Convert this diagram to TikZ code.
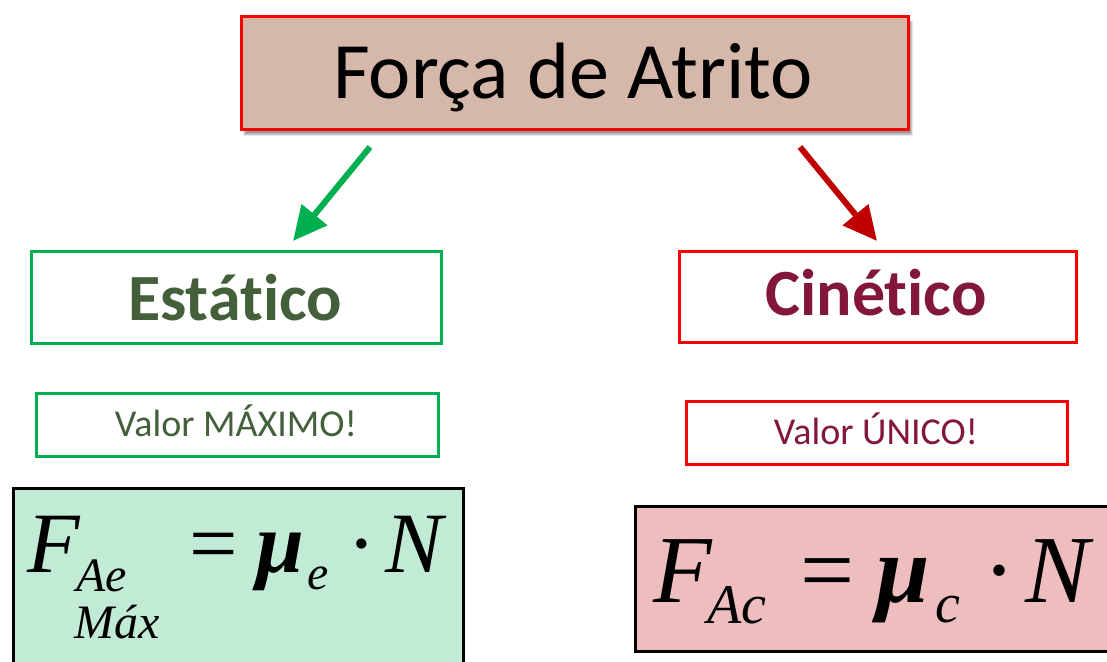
\documentclass[tikz,border=0pt]{standalone}
\usepackage{fontspec}
\usetikzlibrary{arrows.meta,shadows.blur}
\newfontfamily\calibri[Ligatures={NoCommon}]{Carlito}
\newfontfamily\tnr{Liberation Serif}
\definecolor{topfill}{HTML}{D5B8A9}
\definecolor{gborder}{HTML}{00B050}
\definecolor{gtext}{HTML}{44603A}
\definecolor{rborder}{HTML}{FF0000}
\definecolor{rarrow}{HTML}{C00000}
\definecolor{rtext}{HTML}{83173A}
\definecolor{gfill}{HTML}{C1EBD4}
\definecolor{rfill}{HTML}{EEBDBE}
\tikzset{
  box/.style={draw, line width=3pt, inner sep=0pt, anchor=north west},
  conn/.style={line width=6pt, -{Triangle[length=34pt,width=32pt]}},
  fbig/.style={anchor=base west, inner sep=0pt, font=\tnr\itshape\fontsize{86}{86}\selectfont},
  fmu/.style={anchor=base west, inner sep=0pt, font=\tnr\bfseries\itshape\fontsize{86}{86}\selectfont},
  frm/.style={anchor=base west, inner sep=0pt, font=\tnr\fontsize{86}{86}\selectfont},
  fsub/.style={anchor=base west, inner sep=0pt, font=\tnr\itshape\fontsize{48}{48}\selectfont},
  fbigR/.style={anchor=base west, inner sep=0pt, font=\tnr\itshape\fontsize{96}{96}\selectfont},
  fmuR/.style={anchor=base west, inner sep=0pt, font=\tnr\bfseries\itshape\fontsize{96}{96}\selectfont},
  frmR/.style={anchor=base west, inner sep=0pt, font=\tnr\fontsize{96}{96}\selectfont},
  fsubR/.style={anchor=base west, inner sep=0pt, font=\tnr\itshape\fontsize{56}{56}\selectfont},
}
\begin{document}
\begin{tikzpicture}[x=1pt,y=-1pt]
\useasboundingbox (0,0) rectangle (1107,661);
\clip (0,0) rectangle (1107,661);
% top box
\node[box, draw=rborder, fill=topfill, minimum width=667pt, minimum height=113pt,
      blur shadow={shadow xshift=3pt, shadow yshift=-5pt, shadow blur steps=8}] (top) at (240,15) {};
\node[text=black, font=\calibri\fontsize{80}{80}\selectfont, anchor=base] (toptext) at (573,98) {Força de Atrito};
% second row
\node[box, draw=gborder, minimum width=410pt, minimum height=92pt] (est) at (30,250) {};
\node[text=gtext, font=\calibri\bfseries\fontsize{66}{66}\selectfont, anchor=base] (esttext) at (235,320) {Estático};
\node[box, draw=rborder, minimum width=397pt, minimum height=91pt] (cin) at (678,250) {};
\node[text=rtext, font=\calibri\bfseries\fontsize{66}{66}\selectfont, anchor=base] (cintext) at (876,315) {Cinético};
% value boxes
\node[box, draw=gborder, minimum width=402pt, minimum height=63pt] (vmax) at (35,392) {};
\node[text=gtext, font=\calibri\fontsize{38}{38}\selectfont, anchor=base] (vmaxtext) at (236,436) {Valor MÁXIMO!};
\node[box, draw=rborder, minimum width=381pt, minimum height=63pt] (vuni) at (685,400) {};
\node[text=rtext, font=\calibri\fontsize{38}{38}\selectfont, anchor=base] (vunitext) at (876,444) {Valor ÚNICO!};
% arrows
\coordinate (ga) at (370,147);
\coordinate (gb) at (293,241);
\coordinate (ra) at (800,147);
\coordinate (rb) at (877,241);
\draw[conn, draw=gborder, fill=gborder] (ga) -- (gb);
\draw[conn, draw=rarrow, fill=rarrow] (ra) -- (rb);
% formula boxes
\node[box, draw=black, fill=gfill, minimum width=450pt, minimum height=200pt] (fe) at (12,487) {};
\node[box, draw=black, fill=rfill, minimum width=500pt, minimum height=145pt] (fc) at (634,505) {};
% left formula
\node[fbig] (F1) at (27,572) {F};
\node[fsub] (Ae) at (76,591) {Ae};
\node[fsub] (Max) at (74,638) {Máx};
\node[frm] (eq1) at (189,572) {=};
\node[fmu] (mu1) at (256,572) {μ};
\node[fsub] (e1) at (307,589) {e};
\node[frm] (dot1) at (347,572) {·};
\node[fbig] (N1) at (385,572) {N};
% right formula
\node[fbigR] (F2) at (653,602) {F};
\node[fsubR] (Ac) at (707,623) {Ac};
\node[frmR] (eq2) at (800,602) {=};
\node[fmuR] (mu2) at (876,602) {μ};
\node[fsubR] (c2) at (935,622) {c};
\node[frmR] (dot2) at (983,602) {·};
\node[fbigR] (N2) at (1025,602) {N};
\end{tikzpicture}
\end{document}
